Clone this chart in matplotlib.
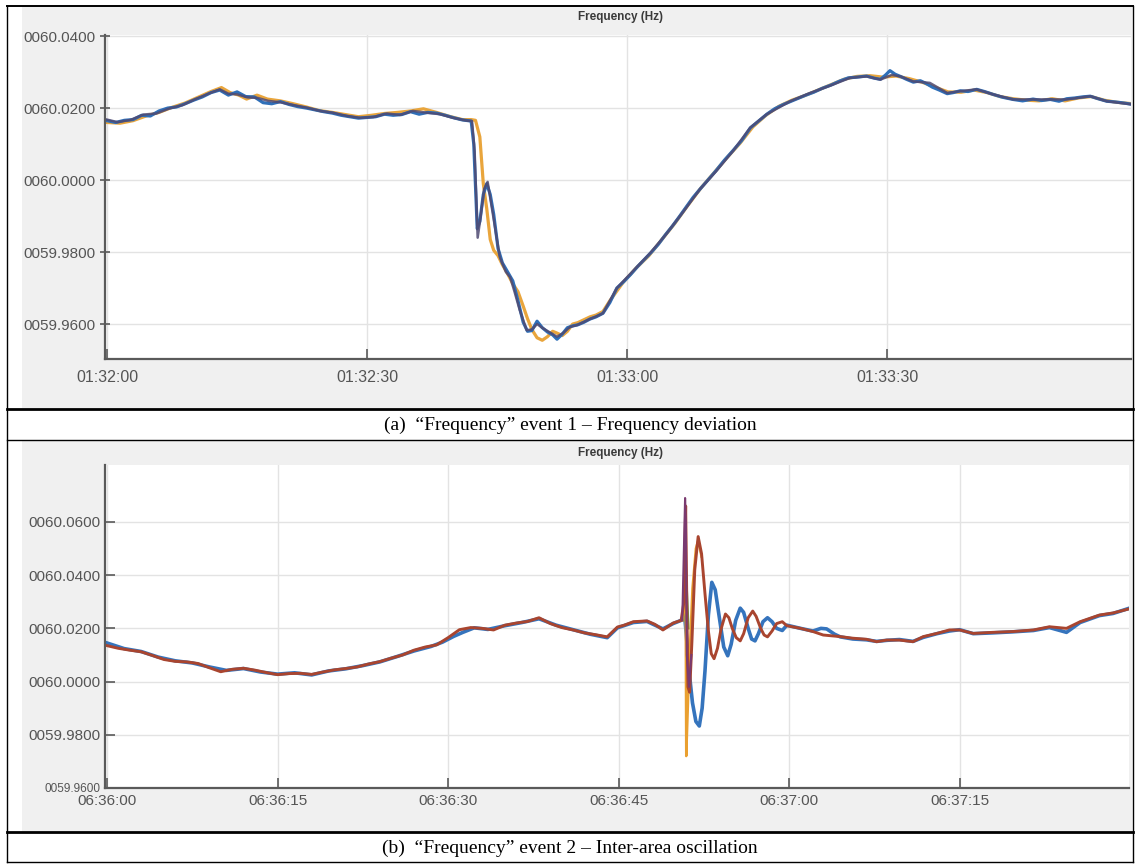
import numpy as np
import matplotlib
matplotlib.use('Agg')
import matplotlib.pyplot as plt
from matplotlib.patches import Rectangle
from matplotlib.lines import Line2D
from matplotlib.ticker import FixedLocator, FuncFormatter

# ---------------- data (seconds after start, Hz) ----------------
# panel (a): event 1, start 01:32:00
t_blue_a = [0, 1, 2, 3, 4, 5, 6, 7, 8, 9, 10, 11, 12, 13, 14, 15, 16, 17, 18, 19, 20,
            21, 22, 23, 24, 25, 26, 27, 28, 29, 30, 31, 32, 33, 34, 35, 36, 37, 38, 39, 40,
            41, 42, 42.3, 42.5, 42.7, 43.0, 43.4, 43.8, 44.2, 44.6, 45.1, 45.6, 46.2, 46.8,
            47.4, 48.0, 48.5, 49.0, 49.6, 50.2, 50.8, 51.4, 51.9, 52.5, 53.1, 53.7, 54.3,
            55.0, 55.7, 56.4, 57.2, 58.0, 58.8, 59.6, 60.4, 61.2, 62.0, 62.8, 63.6, 64.4,
            65.2, 66.0, 66.8, 67.6, 68.4, 69.3, 70.2, 71.2, 72.2, 73.2, 74.2, 75.2, 76.1,
            77.0, 78.0, 78.8, 79.8, 80.6, 81.5, 82.5, 83.5, 84.5, 85.5, 86.5, 87.6, 88.5,
            89.2, 89.8, 90.3, 90.9, 91.5, 92.2, 93.0, 93.8, 94.5, 95.2, 96.0, 96.9, 97.6,
            98.4, 99.3, 100.3, 101.2, 102.2, 103.3, 104.5, 105.6, 106.8, 107.8, 108.8,
            109.8, 110.7, 111.6, 112.5, 113.4, 114.3, 115.3, 116.3, 117.3, 118.3]
f_blue_a = [60.0165, 60.0160, 60.0166, 60.0168, 60.0180, 60.0178, 60.0192, 60.0200, 60.0203,
            60.0212, 60.0222, 60.0231, 60.0243, 60.0250, 60.0236, 60.0245, 60.0232, 60.0231,
            60.0215, 60.0212, 60.0218, 60.0210, 60.0204, 60.0200, 60.0195, 60.0190, 60.0186,
            60.0180, 60.0176, 60.0172, 60.0174, 60.0176, 60.0183, 60.0180, 60.0182, 60.0190,
            60.0183, 60.0188, 60.0186, 60.0180, 60.0173, 60.0167, 60.0164, 60.0100, 59.9980,
            59.9865, 59.9885, 59.9960, 59.9990, 59.9960, 59.9905, 59.9810, 59.9770, 59.9745,
            59.9720, 59.9665, 59.9605, 59.9580, 59.9582, 59.9608, 59.9590, 59.9578, 59.9570,
            59.9558, 59.9572, 59.9590, 59.9595, 59.9598, 59.9605, 59.9614, 59.9620, 59.9630,
            59.9660, 59.9700, 59.9718, 59.9738, 59.9760, 59.9780, 59.9800, 59.9822, 59.9848,
            59.9872, 59.9898, 59.9925, 59.9952, 59.9975, 60.0000, 60.0025, 60.0055, 60.0082,
            60.0110, 60.0145, 60.0165, 60.0183, 60.0198, 60.0210, 60.0218, 60.0228, 60.0236,
            60.0244, 60.0255, 60.0264, 60.0275, 60.0284, 60.0286, 60.0289, 60.0283, 60.0280,
            60.0292, 60.0304, 60.0294, 60.0288, 60.0280, 60.0272, 60.0276, 60.0268, 60.0258,
            60.0250, 60.0240, 60.0243, 60.0248, 60.0246, 60.0252, 60.0246, 60.0238, 60.0230,
            60.0224, 60.0220, 60.0225, 60.0221, 60.0224, 60.0219, 60.0226, 60.0228, 60.0231,
            60.0233, 60.0226, 60.0219, 60.0217, 60.0214, 60.0210]

t_orange_a = [0, 1.5, 3, 4.5, 6, 7.5, 9, 10.5, 12, 13.2, 14.2, 15.2, 16.1, 17.3, 18.5, 20,
              21.5, 23, 24.5, 26, 27.5, 29, 30.5, 32, 33.5, 35, 36.5, 38, 39.5, 41, 42, 42.5,
              43.0, 43.4, 43.8, 44.2, 44.6, 45.1, 45.6, 46.2, 46.8, 47.4, 48.0, 48.5, 49.0,
              49.6, 50.2, 50.8, 51.4, 51.9, 52.5, 53.1, 53.7, 54.3, 55.0, 55.7, 56.4, 57.2,
              58.0, 59.5, 61, 62.5, 64, 65.5, 67, 68.5, 70, 71.5, 73, 74.5, 76, 77.5, 79,
              80.5, 82, 83.5, 85, 86.5, 88, 89.5, 91, 92.5, 94, 95.5, 97, 98.5, 100, 101.5,
              103, 104.5, 106, 107.5, 109, 110.5, 112, 113.5, 115, 116.5, 118.3]
f_orange_a = [60.0160, 60.0158, 60.0165, 60.0178, 60.0188, 60.0202, 60.0214, 60.0230, 60.0246,
              60.0257, 60.0243, 60.0236, 60.0225, 60.0236, 60.0225, 60.0220, 60.0212, 60.0203,
              60.0193, 60.0188, 60.0182, 60.0176, 60.0180, 60.0185, 60.0188, 60.0192, 60.0198,
              60.0188, 60.0177, 60.0168, 60.0168, 60.0166, 60.0120, 59.9990, 59.9920, 59.9835,
              59.9805, 59.9790, 59.9765, 59.9740, 59.9712, 59.9690, 59.9650, 59.9615, 59.9585,
              59.9562, 59.9555, 59.9565, 59.9580, 59.9575, 59.9568, 59.9580, 59.9600, 59.9604,
              59.9612, 59.9620, 59.9625, 59.9635, 59.9665, 59.9715, 59.9755, 59.9790, 59.9835,
              59.9880, 59.9930, 59.9978, 60.0020, 60.0062, 60.0102, 60.0148, 60.0180, 60.0205,
              60.0222, 60.0235, 60.0250, 60.0265, 60.0280, 60.0288, 60.0290, 60.0286, 60.0289,
              60.0282, 60.0272, 60.0258, 60.0245, 60.0244, 60.0250, 60.0243, 60.0232, 60.0226,
              60.0222, 60.0220, 60.0226, 60.0220, 60.0228, 60.0232, 60.0222, 60.0216, 60.0212]

t_dark_a = [0, 1.2, 2.7, 4.2, 5.7, 7.2, 8.7, 10.2, 11.7, 13.0, 14.0, 15.0, 16.2, 17.4, 18.6,
            20.0, 21.6, 23.1, 24.6, 26.1, 27.7, 29.2, 30.7, 32.3, 33.8, 35.3, 36.9, 38.4,
            39.9, 41.5, 42.1, 42.4, 42.75, 43.1, 43.5, 43.9, 44.5, 45.3, 46.0, 46.5, 47.0,
            47.6, 48.4, 49.0, 49.6, 50.3, 51.0, 51.9, 52.6, 53.4, 54.2, 55.0, 55.7, 56.5,
            57.2, 58.8, 60.5, 62.6, 64.5, 66.4, 68.4, 70.3, 72.2, 74.2, 76.1, 78.8, 81.1,
            83.7, 85.7, 87.6, 89.2, 90.5, 91.5, 93.0, 94.9, 96.9, 98.4, 100.3, 102.2, 104.5,
            106.8, 108.8, 110.7, 113.4, 115.3, 118.3]
f_dark_a = [60.0168, 60.0161, 60.0167, 60.0182, 60.0185, 60.0199, 60.0208, 60.0225, 60.0240,
            60.0252, 60.0240, 60.0238, 60.0230, 60.0228, 60.0220, 60.0216, 60.0208, 60.0201,
            60.0192, 60.0187, 60.0178, 60.0173, 60.0175, 60.0185, 60.0181, 60.0192, 60.0187,
            60.0183, 60.0173, 60.0165, 60.0164, 60.0080, 59.9840, 59.9900, 59.9975, 59.9995,
            59.9906, 59.9786, 59.9745, 59.9730, 59.9690, 59.9639, 59.9583, 59.9585, 59.9600,
            59.9588, 59.9578, 59.9565, 59.9575, 59.9592, 59.9597, 59.9606, 59.9614, 59.9622,
            59.9630, 59.9700, 59.9743, 59.9796, 59.9850, 59.9910, 59.9975, 60.0026, 60.0081,
            60.0146, 60.0183, 60.0219, 60.0242, 60.0265, 60.0284, 60.0288, 60.0279, 60.0292,
            60.0288, 60.0274, 60.0270, 60.0242, 60.0247, 60.0252, 60.0238, 60.0224, 60.0224,
            60.0224, 60.0224, 60.0233, 60.0219, 60.0210]

# panel (b): event 2, start 06:36:00
t_red_b = [0, 1, 2, 3, 4, 5, 6, 7, 8, 9, 10, 11, 12, 13, 14, 15, 16, 17, 18, 19, 20, 21, 22,
           23, 24, 25, 26, 27, 28, 29, 30, 31, 32, 33, 34, 35, 36, 37, 38, 39, 40, 41, 42, 43,
           44, 44.9, 45.5, 46.3, 47.5, 48.2, 48.9, 49.8, 50.5,
           50.75, 50.9, 51.0, 51.1, 51.25, 51.45, 51.7, 52.0, 52.3, 52.6, 52.9, 53.15, 53.4,
           53.7, 54.0, 54.4, 54.7, 55.0, 55.35, 55.7, 56.0, 56.4, 56.8, 57.1, 57.5, 57.8,
           58.1, 58.5, 58.9, 59.4, 59.8,
           61.0, 62.1, 63.0, 64.5, 65.6, 66.8, 67.7, 68.6, 69.7, 70.9, 71.8, 73.0, 74.1,
           75.0, 76.2, 77.9, 79.7, 81.5, 82.9, 84.4, 85.6, 87.3, 88.5, 89.8]
f_red_b = [60.0135, 60.0125, 60.0118, 60.0112, 60.0098, 60.0083, 60.0076, 60.0074, 60.0068,
           60.0052, 60.0037, 60.0046, 60.0050, 60.0043, 60.0034, 60.0026, 60.0030, 60.0031,
           60.0027, 60.0036, 60.0044, 60.0049, 60.0055, 60.0066, 60.0075, 60.0088, 60.0100,
           60.0118, 60.0130, 60.0138, 60.0165, 60.0195, 60.0203, 60.0200, 60.0194, 60.0212,
           60.0220, 60.0226, 60.0240, 60.0218, 60.0203, 60.0194, 60.0183, 60.0176, 60.0168,
           60.0205, 60.0212, 60.0225, 60.0228, 60.0215, 60.0194, 60.0220, 60.0230,
           60.0300, 60.0660, 60.0300, 59.9980, 59.9960, 60.0150, 60.0420, 60.0545, 60.0480,
           60.0330, 60.0190, 60.0105, 60.0086, 60.0125, 60.0195, 60.0254, 60.0240, 60.0200,
           60.0165, 60.0153, 60.0180, 60.0240, 60.0265, 60.0245, 60.0200, 60.0175, 60.0168,
           60.0190, 60.0218, 60.0225, 60.0210,
           60.0200, 60.0188, 60.0175, 60.0169, 60.0163, 60.0159, 60.0150, 60.0156, 60.0156,
           60.0150, 60.0169, 60.0181, 60.0194, 60.0194, 60.0181, 60.0185, 60.0188, 60.0194,
           60.0206, 60.0200, 60.0225, 60.0250, 60.0258, 60.0272]

t_blue_b = [0, 1.5, 3, 4.5, 6, 7.5, 9, 10.5, 12, 13.5, 15, 16.5, 18, 19.5, 21, 22.5, 24, 25.5,
            27, 28.5, 29.5, 30.5, 31.3, 32.3, 33.5, 35, 36.5, 38, 39.5, 41, 42.5, 44, 44.9,
            46.3, 47.5, 48.9, 49.8, 50.5,
            50.8, 50.95, 51.2, 51.5, 51.8, 52.1, 52.35, 52.6, 52.9, 53.2, 53.5, 53.9, 54.25,
            54.6, 54.9, 55.3, 55.7, 56.0, 56.4, 56.7, 57.0, 57.3, 57.7, 58.1, 58.5, 58.9,
            59.4, 59.8,
            61.0, 62.1, 62.8, 63.3, 64.0, 64.5, 65.6, 66.8, 67.7, 68.6, 69.7, 70.9, 71.8,
            73.0, 74.1, 75.0, 76.2, 77.9, 79.7, 81.5, 82.9, 84.4, 85.6, 87.3, 88.5, 89.8]
f_blue_b = [60.0145, 60.0124, 60.0113, 60.0092, 60.0078, 60.0070, 60.0055, 60.0042, 60.0049,
            60.0036, 60.0028, 60.0033, 60.0025, 60.0040, 60.0048, 60.0060, 60.0074, 60.0094,
            60.0115, 60.0132, 60.0148, 60.0170, 60.0185, 60.0202, 60.0196, 60.0210, 60.0222,
            60.0236, 60.0212, 60.0195, 60.0178, 60.0165, 60.0202, 60.0222, 60.0226, 60.0198,
            60.0218, 60.0230,
            60.0250, 60.0180, 60.0040, 59.9920, 59.9850, 59.9833, 59.9900, 60.0040, 60.0250,
            60.0373, 60.0345, 60.0230, 60.0130, 60.0097, 60.0140, 60.0230, 60.0276, 60.0260,
            60.0200, 60.0160, 60.0153, 60.0180, 60.0225, 60.0240, 60.0225, 60.0200, 60.0192,
            60.0212,
            60.0200, 60.0190, 60.0200, 60.0198, 60.0178, 60.0168, 60.0160, 60.0157, 60.0151,
            60.0155, 60.0158, 60.0151, 60.0166, 60.0180, 60.0190, 60.0195, 60.0180, 60.0183,
            60.0187, 60.0192, 60.0203, 60.0185, 60.0222, 60.0248, 60.0256, 60.0274]

# short traces only visible around the disturbance
t_orange_b = [50.6, 50.8, 50.88, 50.95, 51.05, 51.2, 51.5, 51.8, 52.0, 52.3]
f_orange_b = [60.0230, 60.0300, 60.0550, 59.9720, 59.9850, 60.0050, 60.0350, 60.0500,
              60.0530, 60.0470]
t_purple_b = [50.6, 50.85, 50.92, 51.0, 51.2, 51.4]
f_purple_b = [60.0230, 60.0690, 60.0600, 60.0100, 59.9980, 60.0100]
t_green_b = [50.7, 50.9, 51.0, 51.15]
f_green_b = [60.0230, 60.0450, 60.0350, 60.0200]

yticks_a = [59.96, 59.98, 60.00, 60.02, 60.04]
yticks_b = [59.96, 59.98, 60.00, 60.02, 60.04, 60.06]
xticks_a = [0, 30, 60, 90]
xticks_b = [0, 15, 30, 45, 60, 75]
start_a = 1 * 3600 + 32 * 60
start_b = 6 * 3600 + 36 * 60

cap_a = "(a)  \u201cFrequency\u201d event 1 \u2013 Frequency deviation"
cap_b = "(b)  \u201cFrequency\u201d event 2 \u2013 Inter-area oscillation"

# ---------------- layout helpers (pixel coords, y down) ----------------
W, H = 1135, 865


def rect(x0, y0, x1, y1):
    return [x0 / W, 1 - y1 / H, (x1 - x0) / W, (y1 - y0) / H]


def clock(base):
    def fmt(s, pos):
        tot = int(round(base + s))
        return f"{tot // 3600:02d}:{tot % 3600 // 60:02d}:{tot % 60:02d}"
    return FuncFormatter(fmt)


def hline(fig, y, x0, x1, lw):
    fig.add_artist(Line2D([x0 / W, x1 / W], [1 - y / H, 1 - y / H], color='black',
                          lw=lw, transform=fig.transFigure))


def vline(fig, x, y0, y1, lw):
    fig.add_artist(Line2D([x / W, x / W], [1 - y0 / H, 1 - y1 / H], color='black',
                          lw=lw, transform=fig.transFigure))


def style_axes(ax, yticks, xticks, base, ytickdir):
    for s in ['top', 'right']:
        ax.spines[s].set_visible(False)
    for s in ['left', 'bottom']:
        ax.spines[s].set_color('#5a5a5a')
        ax.spines[s].set_linewidth(1.6)
    ax.yaxis.set_major_locator(FixedLocator(yticks))
    ax.yaxis.set_major_formatter(FuncFormatter(lambda v, p: f"{v:09.4f}"))
    ax.xaxis.set_major_locator(FixedLocator(xticks))
    ax.xaxis.set_major_formatter(clock(base))
    ax.grid(True, color='#e3e3e3', lw=1.0)
    ax.set_axisbelow(True)
    ax.tick_params(axis='y', direction=ytickdir, length=7, width=1.2, color='#5a5a5a',
                   labelcolor='#555555', labelsize=11, pad=3)
    ax.tick_params(axis='x', direction='in', length=7, width=1.2, color='#5a5a5a',
                   labelcolor='#555555', labelsize=11.5, pad=8)


plt.rcParams['font.family'] = ['Liberation Sans', 'DejaVu Sans']
fig = plt.figure(figsize=(W / 100, H / 100), dpi=100)
fig.patch.set_facecolor('white')

# grey screenshot backgrounds
for (x0, y0, x1, y1) in [(22, 7, 1132, 408), (22, 441, 1132, 831)]:
    fig.add_artist(Rectangle((x0 / W, 1 - y1 / H), (x1 - x0) / W, (y1 - y0) / H,
                             transform=fig.transFigure, facecolor='#f0f0f0',
                             edgecolor='none', zorder=0))

# ---------------- panel (a) ----------------
ax1 = fig.add_axes(rect(105, 35, 1131, 359))
ax1.plot(t_orange_a, f_orange_a, color='#e9a53c', lw=2.3)
ax1.plot(t_blue_a, f_blue_a, color='#2f6fb8', lw=2.3)
ax1.plot(t_dark_a, f_dark_a, color='#4f4a72', lw=1.8, alpha=0.85)
ax1.set_xlim(-0.23, 118.1)
ax1.set_ylim(59.9503, 60.0403)
style_axes(ax1, yticks_a, xticks_a, start_a, 'inout')
fig.text(620 / W, 1 - 17 / H, "Frequency (Hz)", ha='center', va='center',
         fontsize=8.5, fontweight='bold', color='#3a3a3a')

# ---------------- panel (b) ----------------
ax2 = fig.add_axes(rect(105, 465, 1129, 788))
ax2.plot(t_blue_b, f_blue_b, color='#3574bd', lw=2.6)
ax2.plot(t_green_b, f_green_b, color='#5aa04a', lw=1.6)
ax2.plot(t_orange_b, f_orange_b, color='#eaa030', lw=1.8)
ax2.plot(t_red_b, f_red_b, color='#a9452f', lw=2.1)
ax2.plot(t_purple_b, f_purple_b, color='#7a3a70', lw=1.5)
ax2.set_xlim(-0.18, 89.9)
ax2.set_ylim(59.96, 60.0814)
style_axes(ax2, yticks_b, xticks_b, start_b, 'in')
ax2.tick_params(axis='x', pad=4, labelsize=11)
ax2.get_yticklabels()[0].set_fontsize(8.5)
fig.text(620 / W, 1 - 453 / H, "Frequency (Hz)", ha='center', va='center',
         fontsize=8.5, fontweight='bold', color='#3a3a3a')

# ---------------- table frame and captions ----------------
hline(fig, 6, 7, 1133, 1.4)
hline(fig, 409, 7, 1133, 2.0)
hline(fig, 440, 7, 1133, 1.0)
hline(fig, 832, 7, 1133, 2.0)
hline(fig, 862, 7, 1133, 1.0)
vline(fig, 7, 6, 862, 1.0)
vline(fig, 1133, 6, 862, 1.0)

fig.text(570 / W, 1 - 425 / H, cap_a, ha='center', va='center', fontsize=14,
         family=['Liberation Serif', 'DejaVu Serif'])
fig.text(570 / W, 1 - 848 / H, cap_b, ha='center', va='center', fontsize=14,
         family=['Liberation Serif', 'DejaVu Serif'])

fig.savefig('out.png', dpi=100)
